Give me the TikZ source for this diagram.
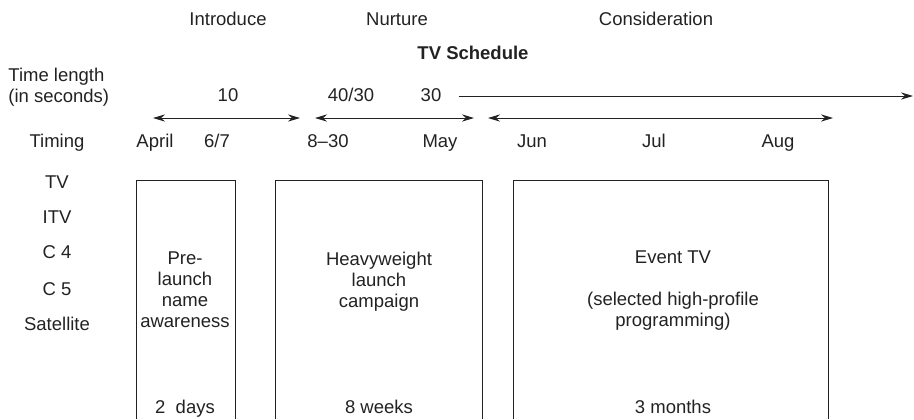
\documentclass[tikz,border=0pt]{standalone}
\usepackage{fontspec}
\setmainfont{Liberation Sans}
\usepackage{xcolor}
\usetikzlibrary{arrows.meta}
\definecolor{inkgray}{HTML}{222222}

\tikzset{
  lbl/.style={font=\fontsize{9.25}{10.5}\selectfont, text=inkgray, inner sep=0pt, align=center},
  word/.style={lbl, text height=1.55ex, text depth=0.45ex},
  span/.style={{Stealth[length=6pt,width=3.6pt]}-{Stealth[length=6pt,width=3.6pt]}, line width=0.5pt, draw=inkgray},
  phasebox/.style={line width=0.5pt, draw=inkgray}
}

\begin{document}
\begin{tikzpicture}[x=0.5pt, y=-0.5pt]
    \useasboundingbox (0,0) rectangle (914,419);

    % Phases
    \node[word] (introduce) at (228,20) {Introduce};
    \node[word] (nurture) at (397,20) {Nurture};
    \node[word] (consider) at (656,20) {Consideration};
    \node[word, font=\fontsize{9.25}{10.5}\selectfont\bfseries] (schedule) at (473,54) {TV Schedule};

    % Row labels
    \node[lbl, align=left, anchor=west] (timelen) at (8,87) {Time length\\(in seconds)};
    \node[word] (timing) at (57,142) {Timing};
    \node[word] (tv) at (57,183) {TV};
    \node[word] (itv) at (57,218) {ITV};
    \node[word] (cfour) at (57,253) {C 4};
    \node[word] (cfive) at (57,290) {C 5};
    \node[word] (sat) at (57,325) {Satellite};

    % Time lengths
    \node[word] (ten) at (228,96) {10};
    \node[word] (fortythirty) at (351,96) {40/30};
    \node[word] (thirty) at (431,96) {30};
    \coordinate (longend) at (913,96);
    \draw[-{Stealth[length=6pt,width=3.6pt]}, line width=0.5pt, draw=inkgray] (thirty.east) ++(17,0) -- (longend);

    % Timing
    \node[word] (april) at (155,142) {April};
    \node[word] (sixseven) at (217,142) {6/7};
    \node[word] (eightthirty) at (328,142) {8--30};
    \node[word] (may) at (440,142) {May};
    \node[word] (jun) at (532,142) {Jun};
    \node[word] (jul) at (654,142) {Jul};
    \node[word] (aug) at (778,142) {Aug};

    \coordinate (aone) at (153,118);
    \coordinate (bone) at (300,118);
    \coordinate (atwo) at (315,118);
    \coordinate (btwo) at (474,118);
    \coordinate (athree) at (488,118);
    \coordinate (bthree) at (833,118);
    \draw[span] (aone) -- (bone);
    \draw[span] (atwo) -- (btwo);
    \draw[span] (athree) -- (bthree);

    % Boxes (open at the bottom)
    \draw[phasebox] (136,419) -- (136,180) -- (235,180) -- (235,419);
    \draw[phasebox] (275,419) -- (275,180) -- (482,180) -- (482,419);
    \draw[phasebox] (513,419) -- (513,180) -- (828,180) -- (828,419);

    \node[lbl] (prelaunch) at (185,290) {Pre-\\launch\\name\\awareness};
    \node[word] (twodays) at (185,408) {2~~days};
    \node[lbl] (heavy) at (379,282) {Heavyweight\\launch\\campaign};
    \node[word] (eightweeks) at (379,408) {8 weeks};
    \node[word] (eventtv) at (673,258) {Event TV};
    \node[lbl] (selected) at (673,311) {(selected high-profile\\programming)};
    \node[word] (threemonths) at (673,408) {3 months};
\end{tikzpicture}
\end{document}
